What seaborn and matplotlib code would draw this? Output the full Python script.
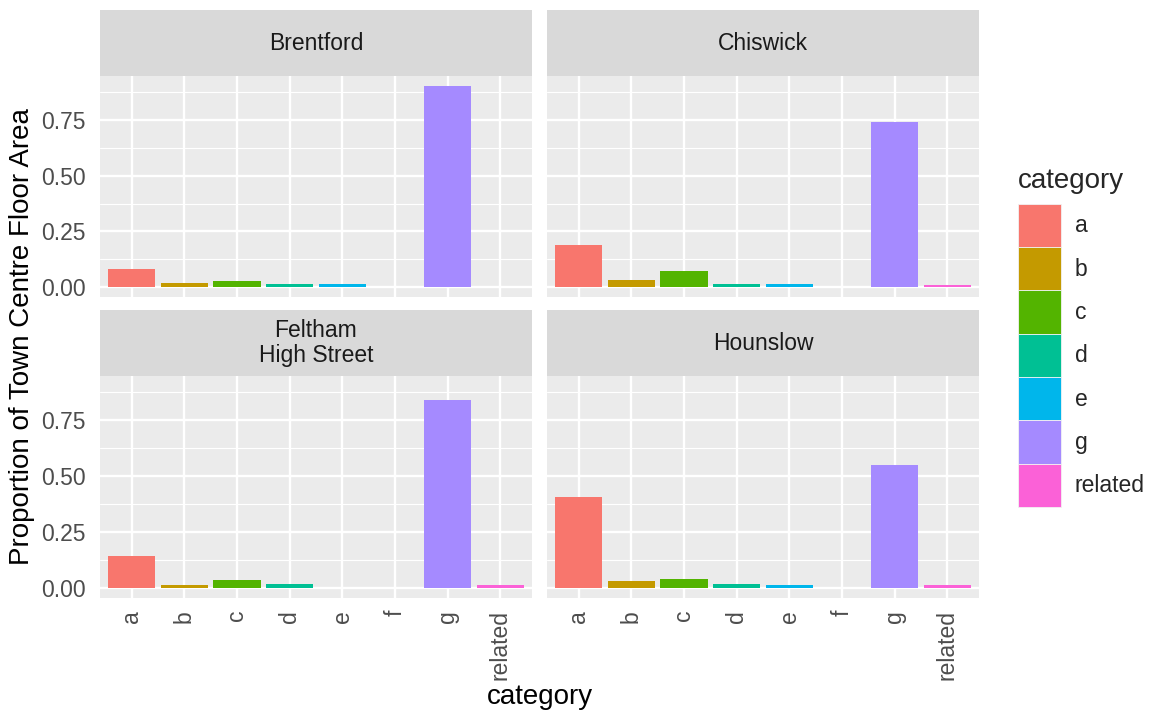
import matplotlib
matplotlib.use("Agg")
import matplotlib.pyplot as plt
from matplotlib.patches import Patch
import seaborn as sns
import pandas as pd

# ---- data -------------------------------------------------------------
towns = ["Brentford", "Chiswick", "Feltham\nHigh Street", "Hounslow"]
x_order = ["a", "b", "c", "d", "e", "f", "g", "related"]
legend_order = ["a", "b", "c", "d", "e", "g", "related"]

brentford_cats = ["a", "b", "c", "d", "e", "g"]
brentford_vals = [0.080, 0.016, 0.025, 0.015, 0.013, 0.903]

chiswick_cats = ["a", "b", "c", "d", "e", "g", "related"]
chiswick_vals = [0.190, 0.033, 0.071, 0.015, 0.012, 0.742, 0.010]

feltham_cats = ["a", "b", "c", "d", "g", "related"]
feltham_vals = [0.143, 0.012, 0.036, 0.016, 0.839, 0.015]

hounslow_cats = ["a", "b", "c", "d", "e", "g", "related"]
hounslow_vals = [0.405, 0.031, 0.038, 0.019, 0.015, 0.552, 0.011]

palette_hex = ["#F8766D", "#C49A00", "#53B400", "#00C094",
               "#00B6EB", "#A58AFF", "#FB61D7"]
palette = dict(zip(legend_order, palette_hex))

frames = []
for town, cats, vals in [(towns[0], brentford_cats, brentford_vals),
                         (towns[1], chiswick_cats, chiswick_vals),
                         (towns[2], feltham_cats, feltham_vals),
                         (towns[3], hounslow_cats, hounslow_vals)]:
    frames.append(pd.DataFrame({"town": town, "category": cats, "value": vals}))
df = pd.concat(frames, ignore_index=True)

# ---- styling ----------------------------------------------------------
sns.set_theme(style="white")
plt.rcParams["font.family"] = ["Liberation Sans", "DejaVu Sans"]

W, H = 1154, 714
DPI = 100
fig = plt.figure(figsize=(W / DPI, H / DPI), dpi=DPI)
fig.patch.set_facecolor("white")

def px_axes(x0, y0, x1, y1):
    return fig.add_axes([x0 / W, 1 - y1 / H, (x1 - x0) / W, (y1 - y0) / H])

cols = [(100, 532), (547, 979)]
rows = [(10, 76, 297), (310, 376, 598)]  # strip top, panel top, panel bottom

ymax = df["value"].max()
ylim = (-0.05 * ymax, 1.05 * ymax)
major = [0.0, 0.25, 0.50, 0.75]
minor = [0.125, 0.375, 0.625, 0.875]

small_fs = 16.5
title_fs = 20
for i, town in enumerate(towns):
    r, c = divmod(i, 2)
    x0, x1 = cols[c]
    st, pt, pb = rows[r]

    # strip
    sax = px_axes(x0, st, x1, pt)
    sax.set_facecolor("#D9D9D9")
    sax.set_xticks([]); sax.set_yticks([])
    for s in sax.spines.values():
        s.set_visible(False)
    sax.text(0.5, 0.5, town, ha="center", va="center", fontsize=small_fs,
             color="#1A1A1A", transform=sax.transAxes, linespacing=1.15)

    # panel
    ax = px_axes(x0, pt, x1, pb)
    ax.set_facecolor("#EBEBEB")
    sub = df[df["town"] == town]
    sns.barplot(data=sub, x="category", y="value", hue="category",
                order=x_order, hue_order=legend_order, palette=palette,
                dodge=False, width=0.9, saturation=1, errorbar=None,
                legend=False, linewidth=0, ax=ax, zorder=3)
    ax.set_xlim(-0.6, len(x_order) - 0.4)
    ax.set_ylim(*ylim)
    ax.set_yticks(major)
    ax.set_yticks(minor, minor=True)
    ax.set_xticks(range(len(x_order)))
    ax.grid(True, which="major", color="white", linewidth=1.7, zorder=0)
    ax.grid(True, which="minor", axis="y", color="white", linewidth=0.8, zorder=0)
    ax.set_axisbelow(True)
    for s in ax.spines.values():
        s.set_visible(False)
    ax.set_xlabel("")
    ax.set_ylabel("")
    ax.tick_params(which="minor", length=0)
    ax.tick_params(which="major", length=5, width=1.4, color="#333333",
                   labelsize=small_fs, labelcolor="#4D4D4D")
    ax.tick_params(axis="y", pad=5.5)
    ax.tick_params(axis="x", pad=3.5)
    if c == 0:
        ax.set_yticklabels([f"{v:.2f}" for v in major])
    else:
        ax.tick_params(axis="y", length=0, labelleft=False)
    if r == 1:
        ax.set_xticklabels(x_order, rotation=90, ha="center", va="top")
    else:
        ax.tick_params(axis="x", length=0, labelbottom=False)

# axis titles
fig.text((100 + 979) / 2 / W, 1 - 697 / H, "category", ha="center", va="center",
         fontsize=title_fs, color="black")
fig.text(22 / W, 1 - 337 / H, "Proportion of Town Centre Floor Area",
         ha="center", va="center", rotation=90, fontsize=title_fs, color="black")

# legend
handles = [Patch(facecolor=palette[k], edgecolor="#F2F2F2", linewidth=0.6)
           for k in legend_order]
leg = fig.legend(handles, legend_order, title="category",
                 loc="upper left", bbox_to_anchor=(1018 / W, 1 - 168 / H),
                 frameon=False, fontsize=small_fs, title_fontsize=title_fs,
                 handlelength=1.88, handleheight=2.53, labelspacing=0,
                 handletextpad=0.6, borderpad=0, borderaxespad=0,
                 alignment="left")
leg._legend_box.sep = 7  # gap between the legend title and the keys

fig.savefig("out.png", dpi=DPI, facecolor="white")
